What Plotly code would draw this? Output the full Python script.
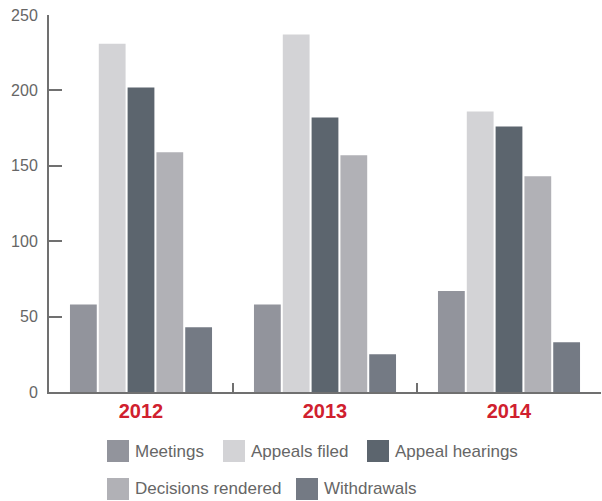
import plotly.graph_objects as go

years = ["2012", "2013", "2014"]
series_names = ["Meetings", "Appeals filed", "Appeal hearings", "Decisions rendered", "Withdrawals"]
meetings = [58, 58, 67]
appeals_filed = [231, 237, 186]
appeal_hearings = [202, 182, 176]
decisions_rendered = [159, 157, 143]
withdrawals = [43, 25, 33]
y_ticks = [0, 50, 100, 150, 200, 250]

values = [meetings, appeals_filed, appeal_hearings, decisions_rendered, withdrawals]
colors = ["#92949C", "#D3D3D6", "#5C656E", "#B1B1B6", "#747A84"]

FONT = "Liberation Sans, Arial, sans-serif"
GRAY = "#666666"

fig = go.Figure()
for name, vals, col in zip(series_names, values, colors):
    fig.add_trace(go.Bar(x=years, y=vals, name=name, marker=dict(color=col, line=dict(width=0)),
                         showlegend=False))

W, H = 602, 501
L, R, T, B = 49, 1, 15, 109
pw, ph = W - L - R, H - T - B

def px_to_paper(x, y):
    return (x - L) / pw, (H - B - y) / ph

# manual legend (layout positions in pixels)
legend_pos = [(107, 440), (223, 440), (367, 440), (107, 478), (296, 478)]
for (lx, ly), name, col in zip(legend_pos, series_names, colors):
    x0, y0 = px_to_paper(lx, ly)
    x1, y1 = px_to_paper(lx + 22, ly + 22)
    fig.add_shape(type="rect", xref="paper", yref="paper", x0=x0, x1=x1, y0=y1, y1=y0,
                  fillcolor=col, line=dict(width=0))
    tx, ty = px_to_paper(lx + 26, ly + 11)
    fig.add_annotation(xref="paper", yref="paper", x=tx, y=ty, text=name, showarrow=False,
                       xanchor="left", yanchor="middle",
                       font=dict(family=FONT, size=17, color=GRAY))

fig.update_layout(
    width=W, height=H,
    margin=dict(l=L, r=R, t=T, b=B),
    plot_bgcolor="white", paper_bgcolor="white",
    barmode="group", bargap=0.217, bargroupgap=0.07,
    xaxis=dict(
        showgrid=False, showline=True, linecolor="#707070", linewidth=2,
        ticks="inside", tickson="boundaries", ticklen=9, tickcolor="#707070", tickwidth=2,
        tickfont=dict(family=FONT, size=20, color="#D0202E", weight="bold"),
        fixedrange=True,
    ),
    yaxis=dict(
        range=[0, 250], tickvals=y_ticks, showgrid=False, zeroline=False,
        showline=True, linecolor="#707070", linewidth=2,
        ticks="inside", ticklen=13, tickcolor="#707070", tickwidth=2,
        tickfont=dict(family=FONT, size=16, color=GRAY), ticklabelstandoff=6,
        fixedrange=True,
    ),
)

fig.write_html("out.html", config={"displayModeBar": False},
               post_script="document.body.style.margin='0px';document.body.style.overflow='hidden';")
